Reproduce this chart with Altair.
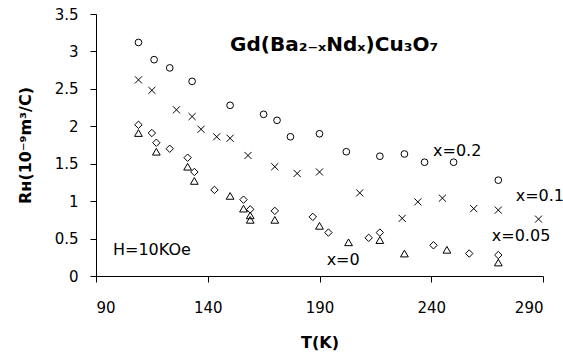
import altair as alt
import pandas as pd

# ---- data ----
T_02 = [109, 116, 123, 133, 150, 165, 171, 177, 190, 202, 217, 228, 237, 250, 270]
R_02 = [3.12, 2.89, 2.78, 2.60, 2.28, 2.16, 2.08, 1.86, 1.90, 1.66, 1.60, 1.63, 1.52, 1.52, 1.28]

T_01 = [109, 115, 126, 133, 137, 144, 150, 158, 170, 180, 190, 208, 227, 234, 245, 259, 270, 288]
R_01 = [2.62, 2.48, 2.22, 2.13, 1.96, 1.86, 1.84, 1.61, 1.46, 1.37, 1.39, 1.11, 0.77, 0.99, 1.04, 0.90, 0.88, 0.76]

T_005 = [109, 115, 117, 123, 131, 134, 143, 156, 159, 170, 187, 194, 212, 217, 241, 257, 270]
R_005 = [2.02, 1.91, 1.78, 1.70, 1.58, 1.39, 1.15, 1.02, 0.89, 0.87, 0.79, 0.58, 0.51, 0.58, 0.41, 0.30, 0.28]

T_0 = [109, 117, 131, 134, 150, 156, 159, 159, 170, 190, 203, 217, 228, 247, 270]
R_0 = [1.91, 1.66, 1.46, 1.27, 1.07, 0.90, 0.81, 0.75, 0.75, 0.67, 0.45, 0.48, 0.30, 0.35, 0.18]

series_names = ["x=0.2", "x=0.1", "x=0.05", "x=0"]

label_texts = ["x=0.2", "x=0.1", "x=0.05", "x=0", "H=10KOe"]
label_T = [240.8, 277.8, 267.1, 193.2, 97.6]
label_R = [1.67, 1.07, 0.53, 0.21, 0.35]

title_text = ["Gd(Ba₂₋ₓNdₓ)Cu₃O₇"]
title_T = [150.0]
title_R = [3.09]

x_ticks = [90, 140, 190, 240, 290]
y_ticks = [0, 0.5, 1, 1.5, 2, 2.5, 3, 3.5]

# ---- build tables ----
rows = []
for name, Ts, Rs in zip(series_names, [T_02, T_01, T_005, T_0], [R_02, R_01, R_005, R_0]):
    for t, r in zip(Ts, Rs):
        rows.append({"series": name, "T": t, "R": r})
df = pd.DataFrame(rows)

df_labels = pd.DataFrame({"text": label_texts, "T": label_T, "R": label_R})
df_title = pd.DataFrame({"text": title_text, "T": title_T, "R": title_R})

FONT = "DejaVu Sans"

x_scale = alt.Scale(domain=[90, 290], nice=False, zero=False)
y_scale = alt.Scale(domain=[0, 3.5], nice=False, zero=True)

x_axis = alt.Axis(values=x_ticks, title="T(K)", labelPadding=18, labelOverlap=False,
                  titleX=223.5, titleY=66, titleBaseline="middle")
y_axis = alt.Axis(values=y_ticks, title="Rʜ(10⁻⁹m³/C)", format="~g", labelPadding=12,
                  labelOverlap=False, tickCount=8,
                  titleX=-71, titleY=131, titleBaseline="middle", titleAngle=-90)

shape_range = ["circle", "M-1,-1L1,1M-1,1L1,-1", "diamond", "triangle-up"]
size_range = [45, 60, 60, 50]

X = alt.X("T:Q", scale=x_scale, axis=x_axis)
Y = alt.Y("R:Q", scale=y_scale, axis=y_axis)

points = alt.Chart(df).mark_point(filled=False, color="black", strokeWidth=1, opacity=1).encode(
    x=X, y=Y,
    shape=alt.Shape("series:N", scale=alt.Scale(domain=series_names, range=shape_range), legend=None),
    size=alt.Size("series:N", scale=alt.Scale(domain=series_names, range=size_range), legend=None),
)

labels = alt.Chart(df_labels).mark_text(align="left", baseline="middle", font=FONT,
                                        fontSize=16, color="black").encode(
    x=X, y=Y, text="text:N",
)

title = alt.Chart(df_title).mark_text(align="left", baseline="middle", font=FONT,
                                      fontSize=20, fontWeight="bold", color="black").encode(
    x=X, y=Y, text="text:N",
)

chart = alt.layer(points, labels, title).properties(
    width=447, height=262,
    padding={"left": 96, "top": 14, "right": 20, "bottom": 76},
    autosize=alt.AutoSizeParams(type="none"),
    background="white",
).configure_view(stroke=None).configure_axis(
    grid=False,
    domainColor="black", domainWidth=1,
    tickColor="black", tickSize=6, tickWidth=1,
    labelColor="black", labelFont=FONT, labelFontSize=15,
    titleColor="black", titleFont=FONT, titleFontSize=16, titleFontWeight="bold",
)

chart.save("out.html", embed_options={"renderer": "svg", "actions": False})
